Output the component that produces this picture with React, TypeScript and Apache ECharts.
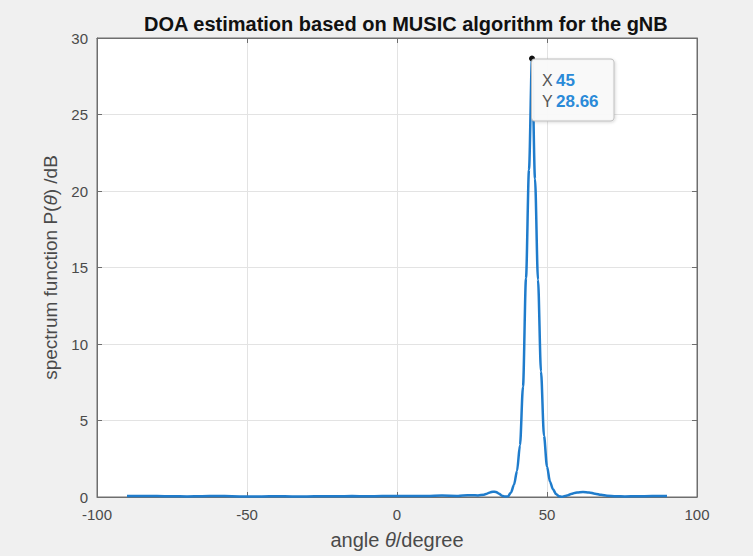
import React, { useEffect, useRef } from "react";
import * as echarts from "echarts";

const titleText = "DOA estimation based on MUSIC algorithm for the gNB";
const xTicks = [-100, -50, 0, 50, 100];
const yTicks = [0, 5, 10, 15, 20, 25, 30];

const angles = [
  -90, -85, -80, -75, -70, -65, -60, -55, -50, -45, -40, -35, -30, -25, -20, -15, -10, -5, 0, 5, 10, 15, 20, 22, 25, 27, 29, 30, 31, 32, 33, 34, 35, 36, 37, 38, 39, 40, 41, 42, 43, 44, 45, 46, 47, 48, 49, 50, 51, 52, 53, 54, 55, 56, 57, 58, 60, 62, 64, 66, 68, 70, 73, 76, 80, 85, 90,
];
const spectrum = [
  0.06, 0.07, 0.06, 0.05, 0.04, 0.05, 0.07, 0.05, 0.03, 0.04, 0.05, 0.04, 0.04, 0.05, 0.05, 0.06, 0.05, 0.06, 0.07, 0.06, 0.06, 0.09, 0.07, 0.1, 0.12, 0.1, 0.15, 0.22, 0.3, 0.35, 0.33, 0.22, 0.08, 0.03, 0.05, 0.3, 0.8, 1.7, 3.4, 7.2, 14.3, 21.4, 28.66, 20.8, 14.2, 8.2, 4.0, 2.0, 1.0, 0.5, 0.2, 0.05, 0.02, 0.06, 0.12, 0.2, 0.3, 0.33, 0.3, 0.22, 0.14, 0.08, 0.05, 0.04, 0.05, 0.06, 0.06,
];
const peakAngle = 45;
const peakValue = 28.66;

export default function App() {
  const ref = useRef<HTMLDivElement>(null);
  useEffect(() => {
    if (!ref.current) return;
    const chart = echarts.init(ref.current, undefined, { renderer: "svg" });
    const data = angles.map((a, i) => [a, spectrum[i]]);
    const axisColor = "#6e6e6e";
    const labelColor = "#4a4a4a";
    const font = "Liberation Sans, Arial, sans-serif";
    chart.setOption({
      animation: false,
      backgroundColor: "#f0f0f0",
      title: {
        text: titleText,
        left: 139,
        top: 9,
        textStyle: { fontFamily: font, fontSize: 20, fontWeight: "bold", color: "#111" },
      },
      grid: {
        left: 97,
        right: 56,
        top: 38,
        bottom: 59,
        show: true,
        backgroundColor: "#ffffff",
        borderColor: axisColor,
        borderWidth: 1,
      },
      xAxis: [
        {
          type: "value",
          min: xTicks[0],
          max: xTicks[xTicks.length - 1],
          interval: 50,
          name: "{n|angle }{i|θ}{n|/degree}",
          nameLocation: "middle",
          nameGap: 33,
          nameTextStyle: {
            rich: {
              n: { fontFamily: font, fontSize: 20, color: labelColor },
              i: { fontFamily: font, fontSize: 20, color: labelColor, fontStyle: "italic" },
            },
          },
          axisLine: { show: true, onZero: false, lineStyle: { color: axisColor } },
          axisTick: { show: true, inside: true, length: 5, lineStyle: { color: axisColor } },
          axisLabel: { color: labelColor, fontFamily: font, fontSize: 15, margin: 10 },
          splitLine: { show: true, lineStyle: { color: "#e3e3e3", width: 1 } },
        },
        {
          type: "value",
          position: "top",
          min: xTicks[0],
          max: xTicks[xTicks.length - 1],
          interval: 50,
          axisLine: { show: true, onZero: false, lineStyle: { color: axisColor } },
          axisTick: { show: true, inside: true, length: 5, lineStyle: { color: axisColor } },
          axisLabel: { show: false },
          splitLine: { show: false },
        },
      ],
      yAxis: [
        {
          type: "value",
          min: yTicks[0],
          max: yTicks[yTicks.length - 1],
          interval: 5,
          name: "{n|spectrum function P(}{i|θ}{n|) /dB}",
          nameLocation: "middle",
          nameGap: 35,
          nameRotate: 90,
          nameTextStyle: {
            rich: {
              n: { fontFamily: font, fontSize: 19, color: labelColor },
              i: { fontFamily: font, fontSize: 19, color: labelColor, fontStyle: "italic" },
            },
          },
          axisLine: { show: true, onZero: false, lineStyle: { color: axisColor } },
          axisTick: { show: true, inside: true, length: 5, lineStyle: { color: axisColor } },
          axisLabel: { color: labelColor, fontFamily: font, fontSize: 15, margin: 9 },
          splitLine: { show: true, lineStyle: { color: "#e3e3e3", width: 1 } },
        },
        {
          type: "value",
          position: "right",
          min: yTicks[0],
          max: yTicks[yTicks.length - 1],
          interval: 5,
          axisLine: { show: true, onZero: false, lineStyle: { color: axisColor } },
          axisTick: { show: true, inside: true, length: 5, lineStyle: { color: axisColor } },
          axisLabel: { show: false },
          splitLine: { show: false },
        },
      ],
      series: [
        {
          type: "line",
          data,
          showSymbol: false,
          smooth: 0.3,
          smoothMonotone: "x",
          lineStyle: { color: "#1f7ccc", width: 2.5 },
          z: 3,
          markPoint: {
            symbol: "circle",
            symbolSize: 6,
            itemStyle: { color: "#111" },
            data: [
              {
                coord: [peakAngle, peakValue],
                label: {
                  show: true,
                  position: [3, 4],
                  formatter: `{k|X} {v|${peakAngle}}\n{k|Y} {v|${peakValue}}`,
                  backgroundColor: "rgba(250,250,250,0.95)",
                  borderColor: "#bdbdbd",
                  borderWidth: 1,
                  borderRadius: 3,
                  padding: [10, 15, 9, 10],
                  shadowColor: "rgba(0,0,0,0.15)",
                  shadowBlur: 3,
                  shadowOffsetX: 1,
                  shadowOffsetY: 1,
                  rich: {
                    k: { fontFamily: font, fontSize: 16, color: "#555", lineHeight: 21 },
                    v: { fontFamily: font, fontSize: 17, color: "#2a8ad8", fontWeight: "bold", lineHeight: 21 },
                  },
                },
              },
            ],
          },
        },
      ],
    });
    return () => chart.dispose();
  }, []);
  return <div ref={ref} style={{ width: 753, height: 556, position: "absolute", left: 0, top: 0 }} />;
}
